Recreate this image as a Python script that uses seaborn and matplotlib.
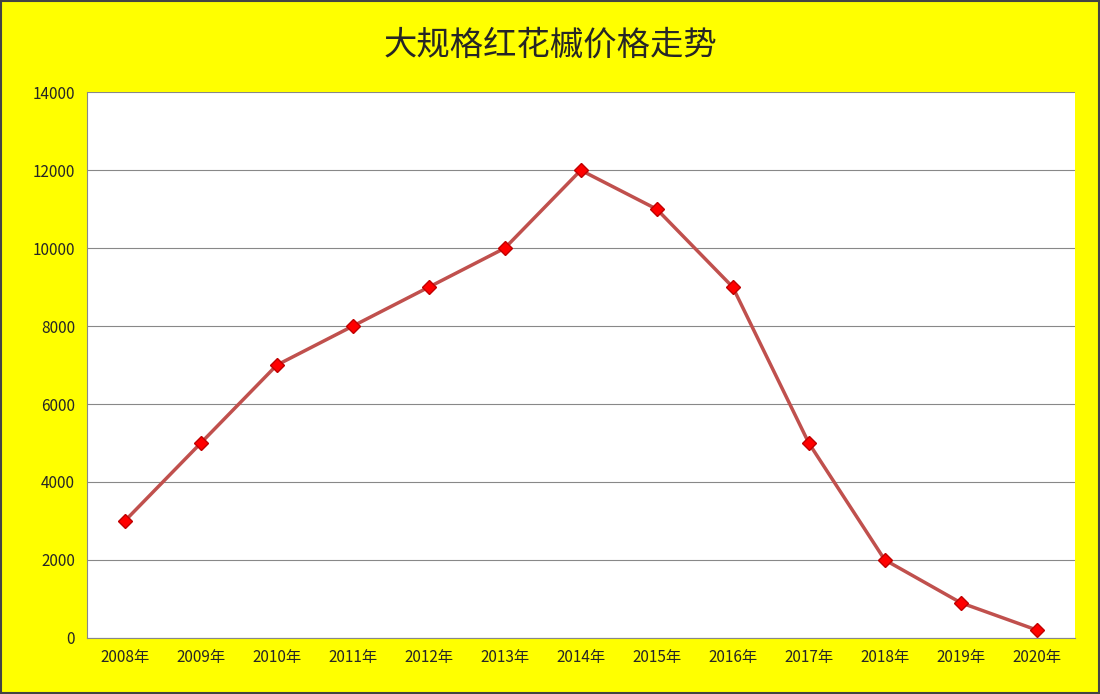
import matplotlib
matplotlib.use("Agg")
import matplotlib.pyplot as plt
import seaborn as sns
import pandas as pd
import numpy as np

years = ["2008年","2009年","2010年","2011年","2012年","2013年","2014年","2015年","2016年","2017年","2018年","2019年","2020年"]
prices = [3000,5000,7000,8000,9000,10000,12000,11000,9000,5000,2000,900,200]
yticks = [0,2000,4000,6000,8000,10000,12000,14000]

sns.set_style("white")
plt.rcParams['font.family'] = ['Noto Sans CJK SC', 'DejaVu Sans']

fig = plt.figure(figsize=(11, 6.94), dpi=100, facecolor="#FFFF00")
ax = fig.add_axes([0.079, 0.081, 0.898, 0.786])
ax.set_facecolor("white")
df = pd.DataFrame({"x": np.arange(len(years)), "y": prices})
sns.lineplot(data=df, x="x", y="y", ax=ax, color="#C0504D", linewidth=2.5,
             marker="D", markersize=7, markerfacecolor="#FF0000",
             markeredgecolor="#C00000", markeredgewidth=1)
ax.set_xlim(-0.5, len(years) - 0.5)
ax.set_ylim(0, 14000)
ax.set_yticks(yticks)
ax.set_yticklabels([str(v) for v in yticks], fontsize=11)
ax.set_xticks(np.arange(len(years)))
ax.set_xticklabels(years, fontsize=11)
ax.set_xticks(np.arange(len(years) + 1) - 0.5, minor=True)
ax.tick_params(axis="x", which="major", length=0, pad=8)
ax.tick_params(axis="x", which="minor", length=5, color="#888888", direction="out")
ax.tick_params(axis="y", length=5, color="#888888", direction="out")
ax.yaxis.grid(True, color="#888888", linewidth=0.8)
ax.set_xlabel(""); ax.set_ylabel("")
for s in ["top", "right"]:
    ax.spines[s].set_visible(False)
for s in ["left", "bottom"]:
    ax.spines[s].set_color("#888888")
fig.text(0.5, 0.935, "大规格红花槭价格走势", ha="center", va="center", fontsize=24)
fig.patches.append(plt.Rectangle((0.001, 0.001), 0.998, 0.998, transform=fig.transFigure,
                                 fill=False, edgecolor="#444444", linewidth=1.5))
fig.savefig("out.png", dpi=100, facecolor=fig.get_facecolor())
